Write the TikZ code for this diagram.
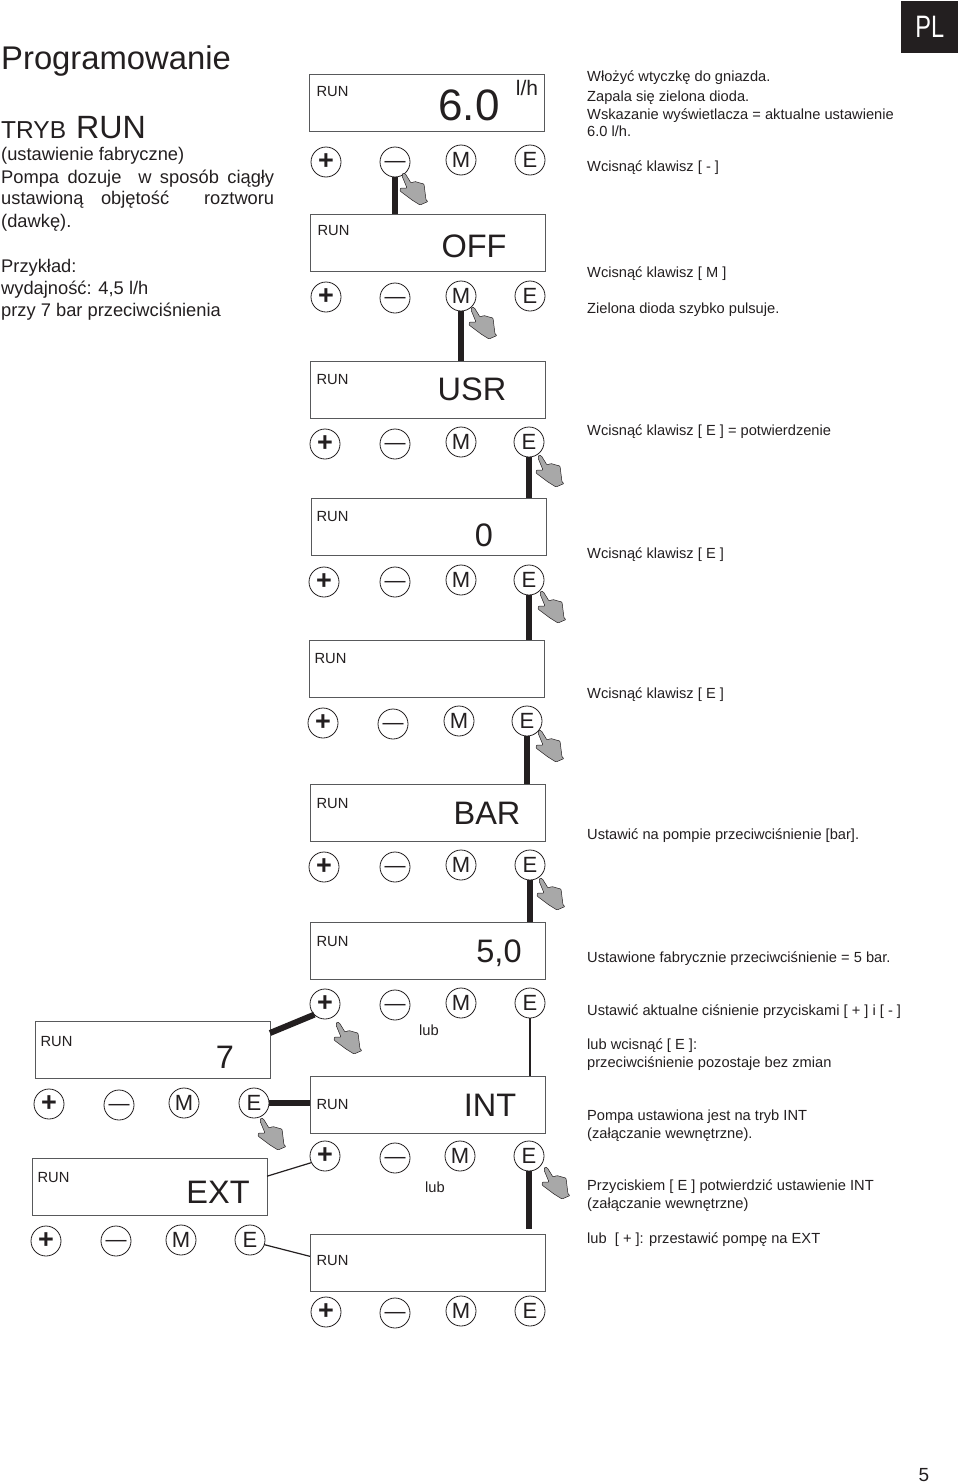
\documentclass[tikz,border=0pt]{standalone}
\usepackage{fontspec}
\setmainfont{Liberation Sans}
\newfontfamily\plfont[FakeStretch=0.76]{Liberation Sans}
\usetikzlibrary{calc}
\definecolor{inkdark}{HTML}{231F20}
\definecolor{framegray}{HTML}{58595B}
\definecolor{handgray}{HTML}{A8A8A8}

\begin{document}
\begin{tikzpicture}[x=1pt,y=-1pt,text=inkdark,
    disp/.style={draw=framegray,line width=.9pt,fill=white,minimum width=235pt,
      minimum height=57pt,inner sep=0pt,outer sep=0pt,anchor=north west},
    key/.style={draw=inkdark,line width=.8pt,fill=white,circle,minimum size=30pt,
      inner sep=0pt,outer sep=0pt,font=\fontsize{22}{22}\selectfont},
    runlab/.style={inner sep=0pt,font=\fontsize{14.7}{14.7}\selectfont},
    readout/.style={inner sep=0pt,anchor=base,font=\fontsize{32.5}{32.5}\selectfont},
    note/.style={inner sep=0pt,anchor=base west,font=\fontsize{14.65}{14.65}\selectfont},
    lead/.style={inner sep=0pt,anchor=base west,font=\fontsize{18.3}{18.3}\selectfont},
    bar/.style={draw=inkdark,line width=6pt},
    wire/.style={draw=inkdark,line width=1.2pt},
    hand/.pic={\draw[fill=handgray,draw=inkdark,line width=.5pt,rounded corners=.8pt]
      (0,0) -- (2.5,1) -- (8,10) -- (12,8.5) -- (17,10) -- (21,11) -- (23,27) -- (25,28.5)
      -- (17,32) -- (9,27) -- (-3,18) -- (-2.5,15) -- (4,15) -- (-1,3) -- cycle;}]
    \useasboundingbox (0,0) rectangle (960,1483);

    % title block
    \node[inner sep=0pt,anchor=base west,font=\fontsize{32.8}{32.8}\selectfont] (title) at (1,69) {Programowanie};
    \node[inner sep=0pt,anchor=base west] (mode) at (1,138)
      {\fontsize{24.5}{24.5}\selectfont TRYB\hspace{10pt}\fontsize{32.2}{32.2}\selectfont RUN};
    \node[fill=inkdark,minimum width=57pt,minimum height=52pt,inner sep=0pt,anchor=north west,
      text=white,font=\plfont\fontsize{31}{31}\selectfont] (lang) at (901,1) {PL};
    \node[inner sep=0pt,anchor=base,font=\fontsize{19}{19}\selectfont] (page) at (924,1481) {5};

    \node[lead] (lead1) at (1,160) {(ustawienie fabryczne)};
    \node[lead] (lead2) at (1,183) {\makebox[273pt][s]{Pompa dozuje\ \ w sposób ciągły}};
    \node[lead] (lead3) at (1,204) {\makebox[273pt][s]{ustawioną objętość\ \ roztworu}};
    \node[lead] (lead4) at (1,227) {(dawkę).};
    \node[lead] (lead5) at (1,272) {Przykład:};
    \node[lead] (lead6) at (1,294) {wydajność: 4,5 l/h};
    \node[lead] (lead7) at (1,316) {przy 7 bar przeciwciśnienia};

    % displays
    \foreach \i/\dx/\dy/\rx/\ry in {1/309/74/23.5/17.5,2/310/214/23.5/16.5,3/310/361/22.5/18.5,
        4/311/498/21.5/19,5/309/640/21.5/19,6/310/784/22.5/19.5,7/310/922/22.5/19.5,
        8/35/1021/21.5/20.5,9/310/1076/22.5/28.5,10/32/1158/21.5/19.5,11/310/1234/22.5/26.5} {
      \node[disp] (disp\i) at (\dx,\dy) {};
      \node[runlab] (run\i) at ($(disp\i.north west)+(\rx,\ry)$) {RUN};
    }

    % keys
    \foreach \i/\xa/\ya/\xb/\yb/\xc/\yc/\xd/\yd in {
        1/326/162/395/162/461/160/530/160,
        2/326/297/395/298/461/296/530/296,
        3/325/444/395/444/461/442/529/442,
        4/324/582/395/582/461/580/529/580,
        5/323/723/393/724/459/721/527/721,
        6/324/867/395/867/461/865/530/865,
        7/325/1004/395/1005/461/1003/530/1003,
        8/49/1104/119/1105/184/1103/254/1103,
        9/325/1156/395/1158/460/1156/529/1156,
        10/46/1241/116/1241/181/1240/250/1240,
        11/326/1312/395/1313/461/1311/530/1311} {
      \node[key] (plus\i) at (\xa,\ya) {\fontsize{27}{27}\selectfont\textbf{+}};
      \node[key] (minus\i) at (\xb,\yb) {\fontsize{21}{21}\selectfont\raisebox{-5.5pt}[0pt][0pt]{—}};
      \node[key] (menu\i) at (\xc,\yc) {M};
      \node[key] (enter\i) at (\xd,\yd) {E};
    }

    % big readouts
    \node[readout,font=\fontsize{44}{44}\selectfont] (val1) at (469,120) {6.0};
    \node[readout,font=\fontsize{21}{21}\selectfont] (unit1) at (527,95) {l/h};
    \foreach \i/\x/\y/\t in {2/474/257/OFF,3/472/400/USR,4/484/546/0,6/487/824/BAR,
        7/499/962/{5,0},8/225/1068/7,9/490/1116/INT,10/218/1203/EXT}
      \node[readout] (val\i) at (\x,\y) {\t};

    % connectors
    \draw[bar] (minus1) ++(0,15) -- (minus1 |- disp2.north);
    \draw[bar] (menu2.south) -- (menu2 |- disp3.north);
    \draw[bar] (enter3.south) -- (enter3 |- disp4.north);
    \draw[bar] (enter4.south) -- (enter4 |- disp5.north);
    \draw[bar] (enter5.south) -- (enter5 |- disp6.north);
    \draw[bar] (enter6.south) -- (enter6 |- disp7.north);
    \draw[bar] (enter8.east) -- (disp9.west |- enter8);
    \draw[bar] (plus7.south west) -- (disp8.8.5);
    \draw[bar] (enter9.south) -- ($(enter9 |- disp11.north)+(0,-5)$);
    \draw[wire] (enter7.south) -- (enter7 |- disp9.north);
    \draw[wire] (plus9.206) -- (disp10.5);
    \draw[wire] (enter10.342) -- (disp11.177);

    % hands
    \foreach \x/\y in {403/173,472/307,539/455,541/591,539/730,540/878,337/1022,261/1118,545/1167}
      \pic at (\x,\y) {hand};

    % steps
    \foreach \i/\y/\t in {1/81/{Włożyć wtyczkę do gniazda.},2/101/{Zapala się zielona dioda.},
        3/119/{Wskazanie wyświetlacza = aktualne ustawienie},4/136/{6.0 l/h.},
        5/171/{Wcisnąć klawisz [ - ]},6/277/{Wcisnąć klawisz [ M ]},
        7/313/{Zielona dioda szybko pulsuje.},8/435/{Wcisnąć klawisz [ E ] = potwierdzenie},
        9/558/{Wcisnąć klawisz [ E ]},10/698/{Wcisnąć klawisz [ E ]},
        11/839/{Ustawić na pompie przeciwciśnienie [bar].},
        12/962/{Ustawione fabrycznie przeciwciśnienie = 5 bar.},
        13/1015/{Ustawić aktualne ciśnienie przyciskami [ + ] i [ - ]},
        14/1049/{lub wcisnąć [ E ]:},15/1067/{przeciwciśnienie pozostaje bez zmian},
        16/1120/{Pompa ustawiona jest na tryb INT},17/1138/{(załączanie wewnętrzne).},
        18/1190/{Przyciskiem [ E ] potwierdzić ustawienie INT},19/1208/{(załączanie wewnętrzne)},
        20/1243/{lub\ \ [ + ]: przestawić pompę na EXT}}
      \node[note] (step\i) at (587,\y) {\t};

    \node[runlab] (or1) at (429,1030) {lub};
    \node[runlab] (or2) at (435,1187) {lub};
\end{tikzpicture}
\end{document}
